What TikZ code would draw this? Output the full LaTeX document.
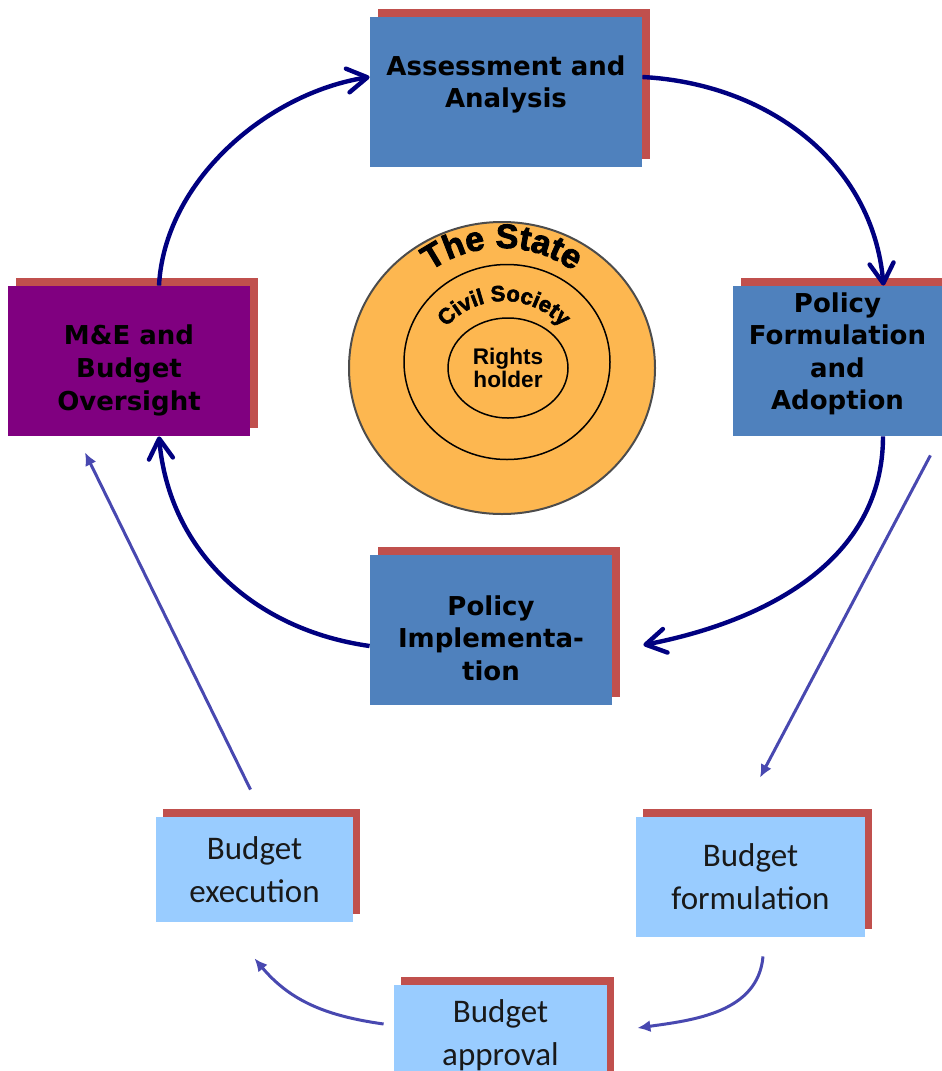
\documentclass[tikz,border=0pt]{standalone}
\usepackage{fontspec}
\usetikzlibrary{shapes.geometric}
\usetikzlibrary{shadows}
\usetikzlibrary{arrows.meta}
\usetikzlibrary{decorations.text}
\usetikzlibrary{positioning}
\newfontfamily\boxfont{DejaVu Sans}
\newfontfamily\budgetfont{Carlito}
\newfontfamily\labelfont{Liberation Sans}
\newfontfamily\heavyfont{Liberation Sans}[BoldFeatures={FakeBold=2.5}]
\definecolor{stageblue}{RGB}{79,129,189}
\definecolor{shadowred}{RGB}{192,80,77}
\definecolor{oversight}{RGB}{128,0,128}
\definecolor{budgetblue}{RGB}{153,204,255}
\definecolor{ringorange}{RGB}{253,183,80}
\definecolor{loopnavy}{RGB}{0,0,128}
\definecolor{budgetarrow}{RGB}{72,72,176}
\tikzset{
  stage/.style={rectangle, fill=stageblue, minimum width=121pt,
    minimum height=75pt, inner sep=0pt,
    general shadow={fill=shadowred, shadow xshift=4pt, shadow yshift=4pt}},
  stagetext/.style={align=center, inner sep=0pt, text=black,
    font=\boxfont\bfseries\fontsize{13}{16.3}\selectfont},
  budget/.style={rectangle, fill=budgetblue, text=black!90, align=center,
    inner sep=0pt, font=\budgetfont\fontsize{16.5}{21.5}\selectfont,
    general shadow={fill=shadowred, shadow xshift=3.5pt, shadow yshift=4pt}},
  ringshape/.style={ellipse, draw=black, line width=0.75pt, inner sep=0pt},
  loopline/.style={draw=loopnavy, line width=2.2pt,
    -{Straight Barb[length=10pt,width=12pt,round]}},
  budgetline/.style={draw=budgetarrow, line width=1.5pt,
    -{Latex[length=6.5pt,width=6pt]}}
}

\begin{document}
\begin{tikzpicture}[x=0.5pt,y=0.5pt]
  \useasboundingbox (0,0) rectangle (942,-1071);
  % state / civil society / rights holder rings
  \node[ringshape, fill=ringorange, draw=black!70, line width=1pt,
    minimum width=153pt, minimum height=146pt] at (502,-368) (state) {};
  \node[ringshape, minimum width=103pt, minimum height=97.5pt] at (507,-362) (society) {};
  \node[ringshape, minimum width=60pt, minimum height=50pt, align=center,
    font=\labelfont\bfseries\fontsize{11.3}{11.8}\selectfont] at (508,-368) (holder) {Rights\\holder};
  \path[decorate, decoration={text along path, text align=center,
    text={|\heavyfont\bfseries\fontsize{17}{17}\selectfont|The State}}]
    ([shift={(150:61pt)}]502,-370) arc[start angle=150, end angle=30, radius=61pt];
  \path[decorate, decoration={text along path, text align=center,
    text={|\heavyfont\bfseries\fontsize{11}{11}\selectfont|Civil Society}}]
    ([shift={(165:38.5pt)}]504,-378) arc[start angle=165, end angle=15, radius=38.5pt];

  % policy cycle
  \node[stage, minimum width=136pt] at (506,-92) (assess) {};
  \node[stagetext] at ([yshift=3.8pt]assess) (assesstxt) {Assessment and\\Analysis};
  \node[stage, fill=oversight] at (129,-361) (mande) {};
  \node[stagetext] at ([yshift=-4.7pt]mande) (mandetxt) {M\&E and\\Budget\\Oversight};
  \node[stage, minimum width=104.5pt] at (837.5,-361) (formul) {};
  \node[stagetext] at ([yshift=3.6pt]formul) (formultxt) {Policy\\Formulation\\and\\Adoption};
  \node[stage] at (491,-630) (implem) {};
  \node[stagetext] at ([yshift=-4pt]implem) (implemtxt) {Policy\\Implementa-\\tion};

  % budget cycle
  \node[budget, minimum width=98.5pt, minimum height=52.5pt] at (254.5,-869.5) (bexec) {Budget\\execution};
  \node[budget, minimum width=114.5pt, minimum height=60pt] at (750.5,-877) (bform) {Budget\\formulation};
  \node[budget, minimum width=106.5pt, minimum height=50pt] at (500.5,-1035) (bappr) {Budget\\approval};

  \draw[loopline] ([xshift=15pt]mande.north) to[out=87,in=189,looseness=0.9] ([yshift=7.5pt]assess.west);
  \draw[loopline] ([yshift=7.5pt]assess.east) to[out=-3,in=95] ([xshift=23pt]formul.north);
  \draw[loopline] ([xshift=22.75pt]formul.south) to[out=-90,in=11] ([shift={(15.5pt,-7.5pt)}]implem.east);
  \draw[loopline] ([yshift=-8pt]implem.west) to[out=172,in=-85] ([xshift=15pt]mande.south);

  \draw[budgetline] ([shift={(-6pt,-9.5pt)}]formul.south east) -- ([shift={(4.75pt,19.5pt)}]bform.north);
  \draw[budgetline] ([shift={(-2pt,13.5pt)}]bexec.north) -- ([shift={(-22pt,-8pt)}]mande.south);
  \draw[budgetline] ([shift={(6.25pt,-9.5pt)}]bform.south) to[out=-95,in=8] ([shift={(15pt,3.5pt)}]bappr.east);
  \draw[budgetline] ([shift={(-5pt,5.5pt)}]bappr.west) to[out=172,in=-50] ([yshift=-18pt]bexec.south);
\end{tikzpicture}
\end{document}
